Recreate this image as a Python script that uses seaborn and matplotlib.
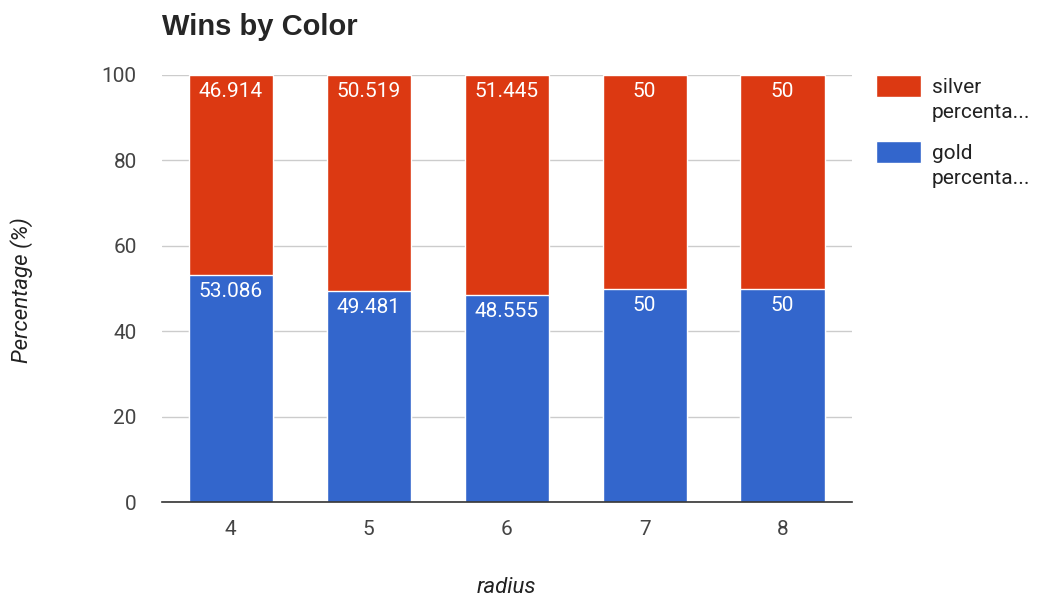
import numpy as np
import pandas as pd
import seaborn as sns
import matplotlib
matplotlib.use('Agg')
import matplotlib.pyplot as plt
from matplotlib.patches import Rectangle

radius = ['4', '5', '6', '7', '8']
gold = [53.086, 49.481, 48.555, 50, 50]
silver = [46.914, 50.519, 51.445, 50, 50]
gold_labels = ['53.086', '49.481', '48.555', '50', '50']
silver_labels = ['46.914', '50.519', '51.445', '50', '50']
legend_labels = ['silver\npercenta...', 'gold\npercenta...']

df = pd.DataFrame({'radius': radius, 'gold': gold, 'silver': silver})
df['total'] = df['gold'] + df['silver']

sns.set_style('white')
plt.rcParams['font.family'] = ['Roboto', 'DejaVu Sans']

red = '#dc3912'
blue = '#3366cc'

fig = plt.figure(figsize=(10.5, 6), dpi=100)
ax = fig.add_axes([0.154, 0.1633, 0.657, 0.7117])

# stacked: total bar in red, gold bar over it
sns.barplot(data=df, x='radius', y='total', color=red, width=0.61,
            edgecolor='white', linewidth=1, saturation=1, ax=ax, zorder=2)
sns.barplot(data=df, x='radius', y='gold', color=blue, width=0.61,
            edgecolor='white', linewidth=1, saturation=1, ax=ax, zorder=3)

for i in range(len(radius)):
    ax.annotate(silver_labels[i], (i, df['total'][i]), xytext=(0, -12),
                textcoords='offset points', ha='center', va='center',
                color='white', fontsize=15, zorder=5)
    ax.annotate(gold_labels[i], (i, gold[i]), xytext=(0, -12),
                textcoords='offset points', ha='center', va='center',
                color='white', fontsize=15, zorder=5)

ax.set_xlim(-0.5, 4.5)
ax.set_ylim(0, 100)
ax.set_yticks([0, 20, 40, 60, 80, 100])
ax.grid(axis='y', color='#cccccc', linewidth=1, zorder=0)
ax.set_axisbelow(True)
for s in ['top', 'right', 'left']:
    ax.spines[s].set_visible(False)
ax.spines['bottom'].set_color('#333333')
ax.spines['bottom'].set_linewidth(1.2)
ax.spines['bottom'].set_zorder(6)
ax.tick_params(axis='both', length=0, labelsize=15, labelcolor='#444444')
ax.tick_params(axis='y', pad=18)
ax.tick_params(axis='x', pad=13)

ax.set_xlabel('radius', fontsize=16, style='italic', color='#222222')
ax.set_ylabel('Percentage (%)', fontsize=16, style='italic', color='#222222')
ax.xaxis.set_label_coords(0.5, -0.176)
ax.yaxis.set_label_coords(-0.187, 0.496)

fig.text(0.154, 0.955, 'Wins by Color', fontsize=21, fontweight='bold',
         family=['Liberation Sans', 'DejaVu Sans'], va='center', ha='left')

# legend drawn by hand so the swatch lines up with the first text line
for (col, top), lab in zip([(red, 1.0), (blue, 0.8454)], legend_labels):
    ax.add_patch(Rectangle((1.0348, top - 0.0515), 0.0652, 0.0515, transform=ax.transAxes,
                           facecolor=col, edgecolor='white', clip_on=False))
    ax.text(1.116, top - 0.006, lab, transform=ax.transAxes, va='top', ha='left',
            fontsize=15, color='#222222', linespacing=1.4)

fig.savefig('out.png', dpi=100)
